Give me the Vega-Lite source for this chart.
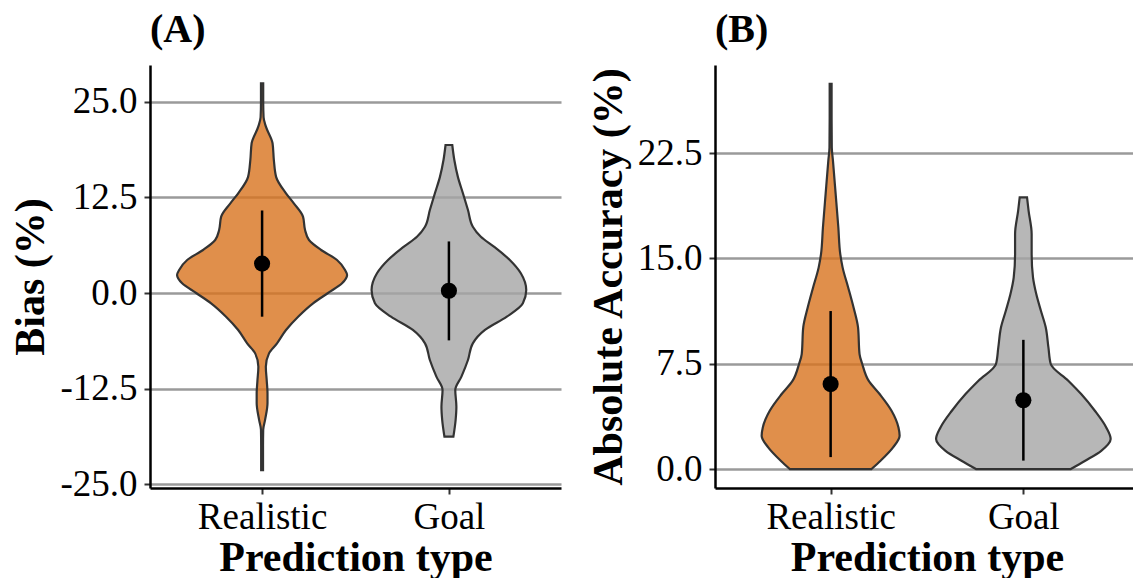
{
  "$schema": "https://vega.github.io/schema/vega-lite/v6.json",
  "padding": {"left": 9, "top": 10, "right": 0, "bottom": 0},
  "background": "white",
  "config": {
    "font": "Liberation Serif",
    "view": {"stroke": null},
    "axis": {
      "labelFont": "Liberation Serif",
      "labelFontSize": 37,
      "labelColor": "black",
      "titleFont": "Liberation Serif",
      "titleFontSize": 42,
      "titleFontWeight": "bold",
      "titleColor": "black",
      "domainColor": "black",
      "domainWidth": 2.5,
      "tickColor": "#333333",
      "tickWidth": 2,
      "tickSize": 6,
      "gridColor": "#9a9a9a",
      "gridWidth": 2.5,
      "labelOverlap": false,
      "labelFlush": false
    },
    "title": {
      "font": "Liberation Serif",
      "fontSize": 40,
      "fontWeight": "bold",
      "anchor": "start",
      "frame": "group",
      "color": "black",
      "baseline": "alphabetic",
      "offset": 15
    }
  },
  "datasets": {
    "violins": [
      {"panel": "A", "type": "Realistic", "v": 27.45, "lo": 0.994, "hi": 1.006},
      {"panel": "A", "type": "Realistic", "v": 25.0, "lo": 0.994, "hi": 1.006},
      {"panel": "A", "type": "Realistic", "v": 23.0, "lo": 0.992, "hi": 1.008},
      {"panel": "A", "type": "Realistic", "v": 21.8, "lo": 0.98, "hi": 1.02},
      {"panel": "A", "type": "Realistic", "v": 19.6, "lo": 0.944, "hi": 1.056},
      {"panel": "A", "type": "Realistic", "v": 17.4, "lo": 0.937, "hi": 1.063},
      {"panel": "A", "type": "Realistic", "v": 15.2, "lo": 0.925, "hi": 1.075},
      {"panel": "A", "type": "Realistic", "v": 13.05, "lo": 0.872, "hi": 1.128},
      {"panel": "A", "type": "Realistic", "v": 11.7, "lo": 0.829, "hi": 1.171},
      {"panel": "A", "type": "Realistic", "v": 10.0, "lo": 0.781, "hi": 1.219},
      {"panel": "A", "type": "Realistic", "v": 8.25, "lo": 0.77, "hi": 1.23},
      {"panel": "A", "type": "Realistic", "v": 6.94, "lo": 0.749, "hi": 1.251},
      {"panel": "A", "type": "Realistic", "v": 5.63, "lo": 0.684, "hi": 1.316},
      {"panel": "A", "type": "Realistic", "v": 4.32, "lo": 0.599, "hi": 1.401},
      {"panel": "A", "type": "Realistic", "v": 3.0, "lo": 0.556, "hi": 1.444},
      {"panel": "A", "type": "Realistic", "v": 2.36, "lo": 0.545, "hi": 1.455},
      {"panel": "A", "type": "Realistic", "v": 1.27, "lo": 0.572, "hi": 1.428},
      {"panel": "A", "type": "Realistic", "v": 0.0, "lo": 0.647, "hi": 1.353},
      {"panel": "A", "type": "Realistic", "v": -1.35, "lo": 0.727, "hi": 1.273},
      {"panel": "A", "type": "Realistic", "v": -3.1, "lo": 0.807, "hi": 1.193},
      {"panel": "A", "type": "Realistic", "v": -4.84, "lo": 0.872, "hi": 1.128},
      {"panel": "A", "type": "Realistic", "v": -6.59, "lo": 0.92, "hi": 1.08},
      {"panel": "A", "type": "Realistic", "v": -7.9, "lo": 0.963, "hi": 1.037},
      {"panel": "A", "type": "Realistic", "v": -9.64, "lo": 0.98, "hi": 1.02},
      {"panel": "A", "type": "Realistic", "v": -11.5, "lo": 0.975, "hi": 1.025},
      {"panel": "A", "type": "Realistic", "v": -13.1, "lo": 0.971, "hi": 1.029},
      {"panel": "A", "type": "Realistic", "v": -14.4, "lo": 0.971, "hi": 1.029},
      {"panel": "A", "type": "Realistic", "v": -16.6, "lo": 0.984, "hi": 1.016},
      {"panel": "A", "type": "Realistic", "v": -17.9, "lo": 0.994, "hi": 1.006},
      {"panel": "A", "type": "Realistic", "v": -20.0, "lo": 0.995, "hi": 1.005},
      {"panel": "A", "type": "Realistic", "v": -23.2, "lo": 0.995, "hi": 1.005},
      {"panel": "A", "type": "Goal", "v": 19.37, "lo": 1.982, "hi": 2.018},
      {"panel": "A", "type": "Goal", "v": 17.4, "lo": 1.971, "hi": 2.029},
      {"panel": "A", "type": "Goal", "v": 15.2, "lo": 1.952, "hi": 2.048},
      {"panel": "A", "type": "Goal", "v": 13.05, "lo": 1.925, "hi": 2.075},
      {"panel": "A", "type": "Goal", "v": 10.86, "lo": 1.898, "hi": 2.102},
      {"panel": "A", "type": "Goal", "v": 8.68, "lo": 1.872, "hi": 2.128},
      {"panel": "A", "type": "Goal", "v": 7.37, "lo": 1.829, "hi": 2.171},
      {"panel": "A", "type": "Goal", "v": 6.06, "lo": 1.759, "hi": 2.241},
      {"panel": "A", "type": "Goal", "v": 4.32, "lo": 1.674, "hi": 2.326},
      {"panel": "A", "type": "Goal", "v": 2.58, "lo": 1.615, "hi": 2.385},
      {"panel": "A", "type": "Goal", "v": 0.39, "lo": 1.586, "hi": 2.414},
      {"panel": "A", "type": "Goal", "v": -1.35, "lo": 1.604, "hi": 2.396},
      {"panel": "A", "type": "Goal", "v": -3.1, "lo": 1.69, "hi": 2.31},
      {"panel": "A", "type": "Goal", "v": -4.84, "lo": 1.807, "hi": 2.193},
      {"panel": "A", "type": "Goal", "v": -6.59, "lo": 1.872, "hi": 2.128},
      {"panel": "A", "type": "Goal", "v": -8.77, "lo": 1.898, "hi": 2.102},
      {"panel": "A", "type": "Goal", "v": -10.95, "lo": 1.933, "hi": 2.067},
      {"panel": "A", "type": "Goal", "v": -12.7, "lo": 1.966, "hi": 2.034},
      {"panel": "A", "type": "Goal", "v": -14.88, "lo": 1.96, "hi": 2.04},
      {"panel": "A", "type": "Goal", "v": -16.6, "lo": 1.964, "hi": 2.036},
      {"panel": "A", "type": "Goal", "v": -18.8, "lo": 1.976, "hi": 2.024},
      {"panel": "B", "type": "Realistic", "v": 27.42, "lo": 0.995, "hi": 1.005},
      {"panel": "B", "type": "Realistic", "v": 25.0, "lo": 0.995, "hi": 1.005},
      {"panel": "B", "type": "Realistic", "v": 22.9, "lo": 0.994, "hi": 1.006},
      {"panel": "B", "type": "Realistic", "v": 21.96, "lo": 0.988, "hi": 1.012},
      {"panel": "B", "type": "Realistic", "v": 19.59, "lo": 0.974, "hi": 1.026},
      {"panel": "B", "type": "Realistic", "v": 17.2, "lo": 0.96, "hi": 1.04},
      {"panel": "B", "type": "Realistic", "v": 15.3, "lo": 0.95, "hi": 1.05},
      {"panel": "B", "type": "Realistic", "v": 14.36, "lo": 0.938, "hi": 1.062},
      {"panel": "B", "type": "Realistic", "v": 12.93, "lo": 0.909, "hi": 1.091},
      {"panel": "B", "type": "Realistic", "v": 11.5, "lo": 0.881, "hi": 1.119},
      {"panel": "B", "type": "Realistic", "v": 10.1, "lo": 0.858, "hi": 1.142},
      {"panel": "B", "type": "Realistic", "v": 8.19, "lo": 0.85, "hi": 1.15},
      {"panel": "B", "type": "Realistic", "v": 7.48, "lo": 0.836, "hi": 1.164},
      {"panel": "B", "type": "Realistic", "v": 6.29, "lo": 0.803, "hi": 1.197},
      {"panel": "B", "type": "Realistic", "v": 5.34, "lo": 0.746, "hi": 1.254},
      {"panel": "B", "type": "Realistic", "v": 4.15, "lo": 0.684, "hi": 1.316},
      {"panel": "B", "type": "Realistic", "v": 2.96, "lo": 0.648, "hi": 1.352},
      {"panel": "B", "type": "Realistic", "v": 2.37, "lo": 0.642, "hi": 1.358},
      {"panel": "B", "type": "Realistic", "v": 1.54, "lo": 0.676, "hi": 1.324},
      {"panel": "B", "type": "Realistic", "v": 0.59, "lo": 0.741, "hi": 1.259},
      {"panel": "B", "type": "Realistic", "v": 0.0, "lo": 0.788, "hi": 1.212},
      {"panel": "B", "type": "Goal", "v": 19.35, "lo": 1.981, "hi": 2.019},
      {"panel": "B", "type": "Goal", "v": 18.4, "lo": 1.973, "hi": 2.027},
      {"panel": "B", "type": "Goal", "v": 16.74, "lo": 1.957, "hi": 2.043},
      {"panel": "B", "type": "Goal", "v": 15.3, "lo": 1.957, "hi": 2.043},
      {"panel": "B", "type": "Goal", "v": 13.65, "lo": 1.95, "hi": 2.05},
      {"panel": "B", "type": "Goal", "v": 12.46, "lo": 1.933, "hi": 2.067},
      {"panel": "B", "type": "Goal", "v": 11.27, "lo": 1.909, "hi": 2.091},
      {"panel": "B", "type": "Goal", "v": 10.09, "lo": 1.884, "hi": 2.116},
      {"panel": "B", "type": "Goal", "v": 8.66, "lo": 1.87, "hi": 2.13},
      {"panel": "B", "type": "Goal", "v": 7.48, "lo": 1.858, "hi": 2.142},
      {"panel": "B", "type": "Goal", "v": 6.29, "lo": 1.767, "hi": 2.233},
      {"panel": "B", "type": "Goal", "v": 5.34, "lo": 1.7, "hi": 2.3},
      {"panel": "B", "type": "Goal", "v": 4.15, "lo": 1.629, "hi": 2.371},
      {"panel": "B", "type": "Goal", "v": 2.96, "lo": 1.57, "hi": 2.43},
      {"panel": "B", "type": "Goal", "v": 2.14, "lo": 1.547, "hi": 2.453},
      {"panel": "B", "type": "Goal", "v": 1.3, "lo": 1.596, "hi": 2.404},
      {"panel": "B", "type": "Goal", "v": 0.59, "lo": 1.679, "hi": 2.321},
      {"panel": "B", "type": "Goal", "v": 0.0, "lo": 1.754, "hi": 2.246}
    ],
    "stats": [
      {"panel": "A", "type": "Realistic", "pos": 1, "mean": 3.85, "lo": -3.1, "hi": 10.8},
      {"panel": "A", "type": "Goal", "pos": 2, "mean": 0.3, "lo": -6.2, "hi": 6.75},
      {"panel": "B", "type": "Realistic", "pos": 1, "mean": 6.05, "lo": 0.85, "hi": 11.25},
      {"panel": "B", "type": "Goal", "pos": 2, "mean": 4.9, "lo": 0.6, "hi": 9.2}
    ]
  },
  "spacing": 26,
  "hconcat": [
    {
      "title": "(A)",
      "width": 411,
      "height": 423,
      "layer": [
        {
          "data": {"name": "violins"},
          "transform": [{"filter": "datum.panel === 'A'"}],
          "mark": {"type": "area", "orient": "horizontal", "interpolate": "monotone", "fillOpacity": 0.8, "stroke": "#333333", "strokeWidth": 2.2},
          "encoding": {
            "y": {"field": "v", "type": "quantitative", "scale": {"domain": [-25.52, 29.84], "nice": false, "zero": false},
              "axis": {"title": "Bias (%)", "values": [-25, -12.5, 0, 12.5, 25], "labelExpr": "(datum.value < 0 ? '-' : '') + format(abs(datum.value), '.1f')", "grid": true, "titleX": -107, "titleBaseline": "alphabetic", "labelPadding": 7}},
            "x": {"field": "lo", "type": "quantitative", "scale": {"domain": [0.4, 2.6], "nice": false, "zero": false},
              "axis": {"title": "Prediction type", "values": [1, 2], "labelExpr": "datum.value === 1 ? 'Realistic' : 'Goal'", "grid": false, "labelPadding": 5, "titleY": 82, "titleBaseline": "alphabetic"}},
            "x2": {"field": "hi"},
            "color": {"field": "type", "type": "nominal", "scale": {"domain": ["Realistic", "Goal"], "range": ["#D8731E", "#A5A5A5"]}, "legend": null}
          }
        },
        {
          "data": {"name": "stats"},
          "transform": [{"filter": "datum.panel === 'A'"}],
          "mark": {"type": "rule", "color": "black", "strokeWidth": 2.5},
          "encoding": {
            "x": {"field": "pos", "type": "quantitative"},
            "y": {"field": "lo", "type": "quantitative"},
            "y2": {"field": "hi"}
          }
        },
        {
          "data": {"name": "stats"},
          "transform": [{"filter": "datum.panel === 'A'"}],
          "mark": {"type": "point", "filled": true, "color": "black", "opacity": 1, "size": 260},
          "encoding": {
            "x": {"field": "pos", "type": "quantitative"},
            "y": {"field": "mean", "type": "quantitative"}
          }
        }
      ]
    },
    {
      "title": "(B)",
      "width": 424,
      "height": 423,
      "layer": [
        {
          "data": {"name": "violins"},
          "transform": [{"filter": "datum.panel === 'B'"}],
          "mark": {"type": "area", "orient": "horizontal", "interpolate": "monotone", "fillOpacity": 0.8, "stroke": "#333333", "strokeWidth": 2.2},
          "encoding": {
            "y": {"field": "v", "type": "quantitative", "scale": {"domain": [-1.35, 28.77], "nice": false, "zero": false},
              "axis": {"title": "Absolute Accuracy (%)", "values": [0, 7.5, 15, 22.5], "format": ".1f", "grid": true, "titleX": -93.5, "titleBaseline": "alphabetic", "labelPadding": 7}},
            "x": {"field": "lo", "type": "quantitative", "scale": {"domain": [0.4, 2.6], "nice": false, "zero": false},
              "axis": {"title": "Prediction type", "values": [1, 2], "labelExpr": "datum.value === 1 ? 'Realistic' : 'Goal'", "grid": false, "labelPadding": 5, "titleY": 82, "titleBaseline": "alphabetic"}},
            "x2": {"field": "hi"},
            "color": {"field": "type", "type": "nominal", "scale": {"domain": ["Realistic", "Goal"], "range": ["#D8731E", "#A5A5A5"]}, "legend": null}
          }
        },
        {
          "data": {"name": "stats"},
          "transform": [{"filter": "datum.panel === 'B'"}],
          "mark": {"type": "rule", "color": "black", "strokeWidth": 2.5},
          "encoding": {
            "x": {"field": "pos", "type": "quantitative"},
            "y": {"field": "lo", "type": "quantitative"},
            "y2": {"field": "hi"}
          }
        },
        {
          "data": {"name": "stats"},
          "transform": [{"filter": "datum.panel === 'B'"}],
          "mark": {"type": "point", "filled": true, "color": "black", "opacity": 1, "size": 260},
          "encoding": {
            "x": {"field": "pos", "type": "quantitative"},
            "y": {"field": "mean", "type": "quantitative"}
          }
        }
      ]
    }
  ]
}
